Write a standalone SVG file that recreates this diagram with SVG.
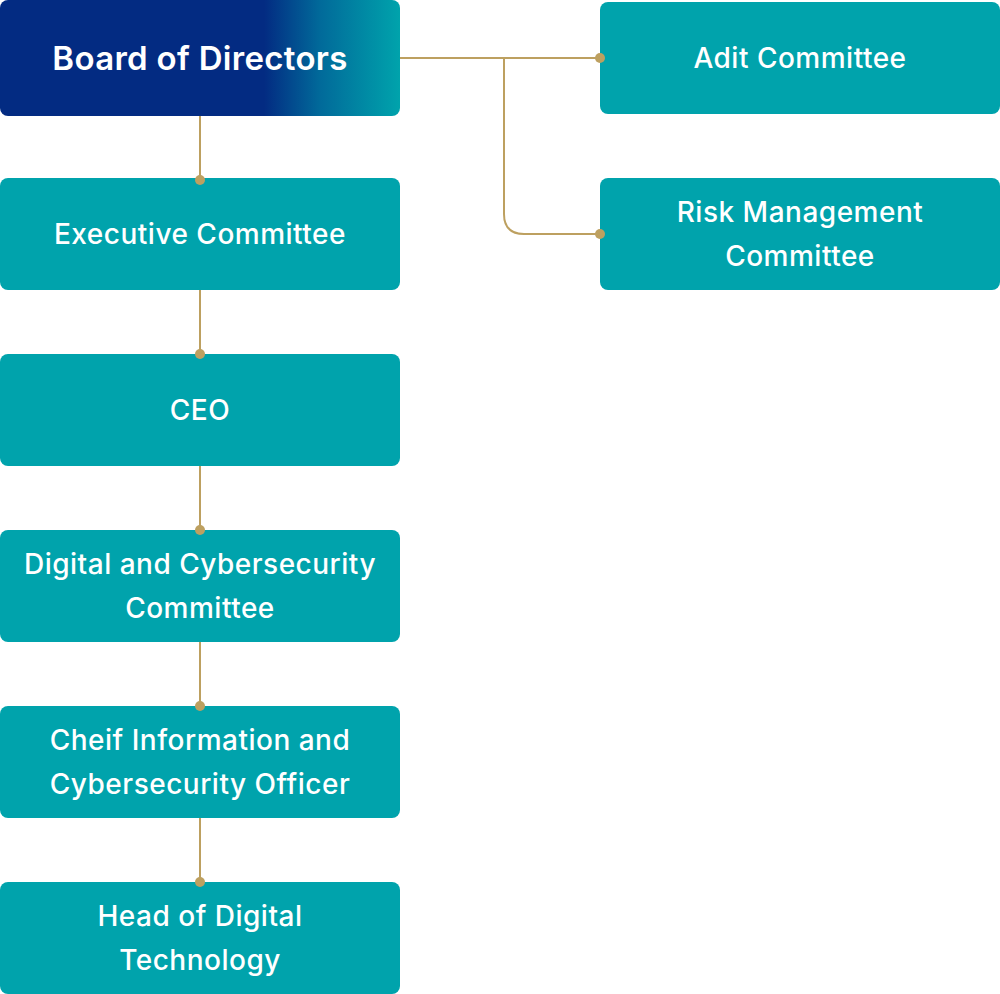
<svg xmlns="http://www.w3.org/2000/svg" width="1000" height="994" viewBox="0 0 1000 994">
<defs>
<linearGradient id="bod" x1="0" y1="0" x2="400" y2="0" gradientUnits="userSpaceOnUse">
<stop offset="0" stop-color="#032b82"/>
<stop offset="0.66" stop-color="#032b82"/>
<stop offset="0.8" stop-color="#016a9a"/>
<stop offset="1" stop-color="#00a3ac"/>
</linearGradient>
<style>
.box{fill:#00a3ac}
.t{fill:#ffffff;font-family:Inter,"Noto Sans","Liberation Sans",sans-serif;font-size:28px;font-weight:500;text-anchor:middle;letter-spacing:0.5px}
.tb{font-size:33px;font-weight:600;letter-spacing:0.3px}
.ln{fill:none;stroke:#bda060;stroke-width:2}
.dot{fill:#bda060}
</style>
</defs>
<g id="board">
<rect x="0" y="0" width="400" height="116" rx="8" fill="url(#bod)"/>
<text class="t tb" x="200" y="70">Board of Directors</text>
</g>
<g id="adit">
<rect class="box" x="600" y="2" width="400" height="112" rx="8"/>
<text class="t" x="800" y="68">Adit Committee</text>
</g>
<g id="risk">
<rect class="box" x="600" y="178" width="400" height="112" rx="8"/>
<text class="t" x="800" y="222">Risk Management</text>
<text class="t" x="800" y="266">Committee</text>
</g>
<g id="exec">
<rect class="box" x="0" y="178" width="400" height="112" rx="8"/>
<text class="t" x="200" y="244">Executive Committee</text>
</g>
<g id="ceo">
<rect class="box" x="0" y="354" width="400" height="112" rx="8"/>
<text class="t" x="200" y="420">CEO</text>
</g>
<g id="dcc">
<rect class="box" x="0" y="530" width="400" height="112" rx="8"/>
<text class="t" x="200" y="574">Digital and Cybersecurity</text>
<text class="t" x="200" y="618">Committee</text>
</g>
<g id="cico">
<rect class="box" x="0" y="706" width="400" height="112" rx="8"/>
<text class="t" x="200" y="750">Cheif Information and</text>
<text class="t" x="200" y="794">Cybersecurity Officer</text>
</g>
<g id="hdt">
<rect class="box" x="0" y="882" width="400" height="112" rx="8"/>
<text class="t" x="200" y="926">Head of Digital</text>
<text class="t" x="200" y="970">Technology</text>
</g>
<g id="connectors">
<path class="ln" d="M200 116V180"/>
<path class="ln" d="M200 290V354"/>
<path class="ln" d="M200 466V530"/>
<path class="ln" d="M200 642V706"/>
<path class="ln" d="M200 818V882"/>
<path class="ln" d="M400 58H600"/>
<path class="ln" d="M504 58V214Q504 234 524 234H600"/>
<circle class="dot" cx="200" cy="180" r="5"/>
<circle class="dot" cx="200" cy="354" r="5"/>
<circle class="dot" cx="200" cy="530" r="5"/>
<circle class="dot" cx="200" cy="706" r="5"/>
<circle class="dot" cx="200" cy="882" r="5"/>
<circle class="dot" cx="600" cy="58" r="5"/>
<circle class="dot" cx="600" cy="234" r="5"/>
</g>
</svg>
